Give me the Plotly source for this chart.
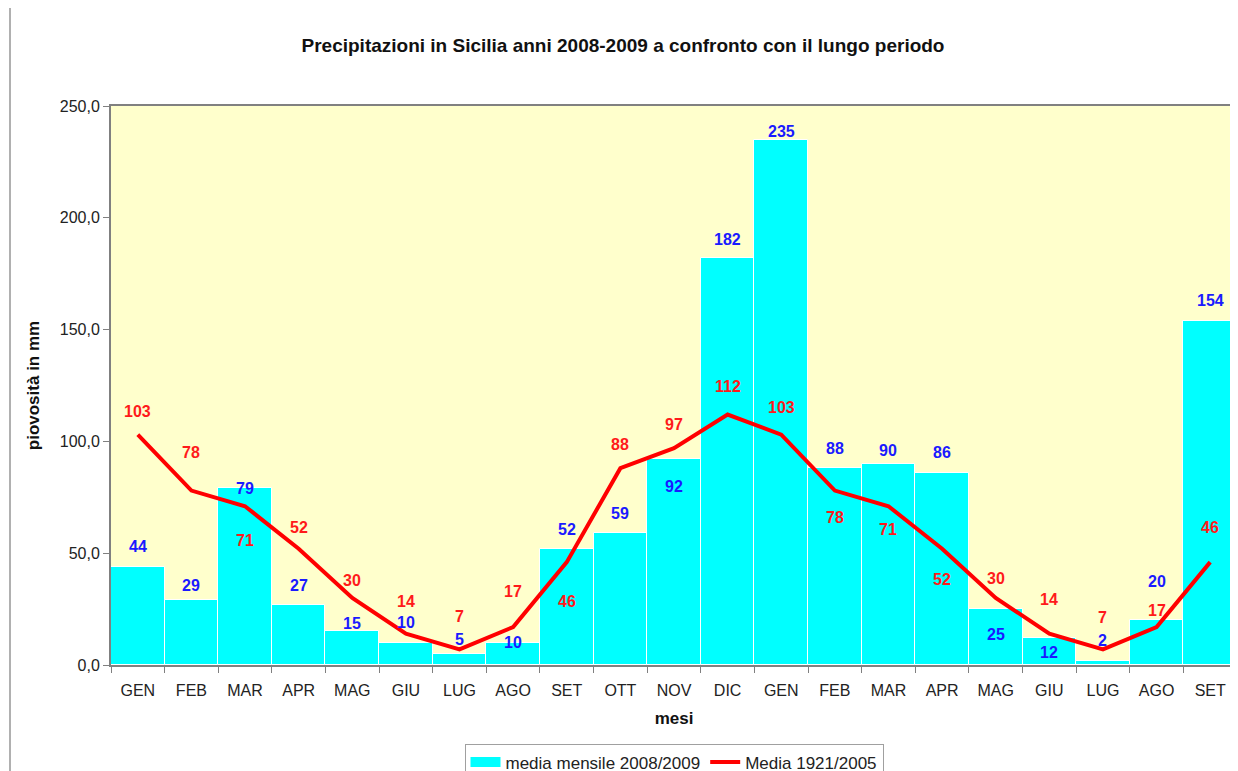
import plotly.graph_objects as go

months = ["GEN", "FEB", "MAR", "APR", "MAG", "GIU", "LUG", "AGO", "SET", "OTT", "NOV",
          "DIC", "GEN", "FEB", "MAR", "APR", "MAG", "GIU", "LUG", "AGO", "SET"]
media_2008_2009 = [44, 29, 79, 27, 15, 10, 5, 10, 52, 59, 92, 182, 235, 88, 90, 86, 25, 12, 2, 20, 154]
media_1921_2005 = [103, 78, 71, 52, 30, 14, 7, 17, 46, 88, 97, 112, 103, 78, 71, 52, 30, 14, 7, 17, 46]

# label offsets (pixels, positive = up) as placed in the original
bar_label_shift = [20, 15, 0, 19, 8, 20, 14, 0, 19, 20, -27, 19, 8, 20, 13, 20, -25, -14, 20, 39, 20]
line_label_shift = [23, 38, -34, 21, 17, 32, 33, 35, -39, 24, 24, 28, 27, -27, -23, -31, 19, 34, 32, 16, 35]

x = list(range(len(months)))
FONT = "Liberation Sans, Arial"

fig = go.Figure()
fig.add_trace(go.Bar(
    x=x, y=media_2008_2009, name="media mensile 2008/2009", showlegend=False,
    marker=dict(color="#00FFFF", line=dict(color="#FFFFFF", width=1)),
))
# legend swatch for the bars (wide cyan band, as in the original legend)
fig.add_trace(go.Scatter(
    x=[None], y=[None], name="media mensile 2008/2009", mode="lines",
    line=dict(color="#00FFFF", width=10),
))
fig.add_trace(go.Scatter(
    x=x, y=media_1921_2005, name="Media 1921/2005", mode="lines",
    line=dict(color="#FF0000", width=4),
))

for i in x:
    fig.add_annotation(x=i, y=media_2008_2009[i], text=str(media_2008_2009[i]), showarrow=False,
                       yshift=bar_label_shift[i],
                       font=dict(family=FONT, size=16, color="#1A1AFF", weight="bold"))
    fig.add_annotation(x=i, y=media_1921_2005[i], text=str(media_1921_2005[i]), showarrow=False,
                       yshift=line_label_shift[i],
                       font=dict(family=FONT, size=16, color="#FF1A1A", weight="bold"))

fig.add_shape(type="line", xref="paper", yref="paper", x0=-0.0897, x1=-0.0897, y0=-0.3, y1=1.2,
              line=dict(color="#B0B0B0", width=2))

fig.update_layout(
    width=1230, height=775,
    margin=dict(l=103, r=1, t=98, b=118),
    paper_bgcolor="white",
    plot_bgcolor="#FFFFCC",
    separators=",.",
    bargap=0,
    font=dict(family=FONT, color="#222222"),
    title=dict(text="<b>Precipitazioni in Sicilia anni 2008-2009 a confronto con il lungo periodo</b>",
               x=0.5, xanchor="center", xref="container", y=0.9523, yanchor="middle",
               font=dict(size=19, color="#111111")),
    showlegend=True,
    legend=dict(orientation="h", x=0.5, xanchor="center", y=-0.1405, yanchor="top",
                bordercolor="#A0A0A0", borderwidth=1, bgcolor="white",
                font=dict(size=17, color="#222222"), tracegroupgap=0),
    xaxis=dict(
        range=[-0.5, 20.5], tickmode="array", tickvals=x, ticktext=months,
        showgrid=False, zeroline=False, ticks="outside", ticklen=10, tickcolor="rgba(0,0,0,0)",
        tickfont=dict(size=16),
        showline=True, linecolor="#808080", linewidth=2, mirror=True,
        minor=dict(tickvals=[i - 0.5 for i in x] + [20.5], ticks="outside", ticklen=6,
                   tickcolor="#808080", showgrid=False),
        title=dict(text="<b>mesi</b>", font=dict(size=17, color="#111111"), standoff=14),
    ),
    yaxis=dict(
        range=[0, 250], dtick=50, tickformat=".1f", showgrid=False, zeroline=False,
        ticks="outside", ticklen=6, tickcolor="#808080", tickfont=dict(size=16),
        showline=True, linecolor="#808080", linewidth=2,
        title=dict(text="<b>piovosità in mm</b>", font=dict(size=17, color="#111111"), standoff=16),
    ),
)

fig.write_html("out.html")
